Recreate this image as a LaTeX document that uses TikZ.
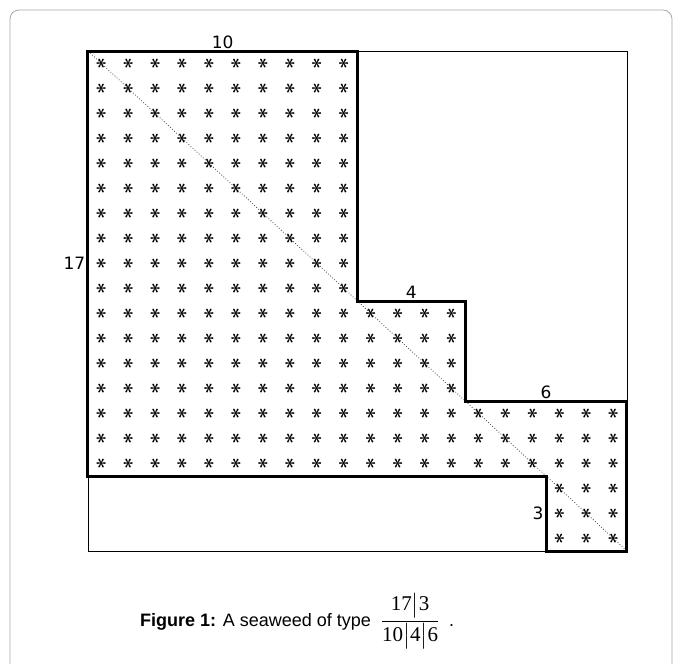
\documentclass[tikz,border=0pt]{standalone}
\usepackage{amsmath}
\usepackage{fontspec}
\newfontfamily\numfont{DejaVu Sans}
\newfontfamily\capfont{Liberation Sans}
\newfontfamily\fracfont{Liberation Serif}
\usetikzlibrary{positioning}
\definecolor{framegray}{HTML}{A8A8A8}

\begin{document}
\begin{tikzpicture}[x=26.95pt,y=-25pt,
  astr/.style={inner sep=0pt,rotate=90,font=\boldmath\fontsize{22}{22}\selectfont},
  numlab/.style={inner sep=2.5pt,font=\numfont\fontsize{17}{17}\selectfont},
  seam/.style={line width=3pt}]
\useasboundingbox (-3.265,-2.04) rectangle (22.004,24.52);
% outer frame, bottom runs off the page
\begin{scope}
\clip (-3.265,-2.04) rectangle (22.004,24.52);
\draw[framegray,line width=0.8pt,rounded corners=9pt] (-2.894,-1.64) rectangle (21.67,24.9);
\end{scope}

% matrix box and diagonal
\draw[line width=0.8pt] (0,0) rectangle (20,20);
\draw[black!75,dotted,line width=0.8pt] (0,0) -- (20,20);

% entries of the seaweed
\foreach \r in {0,...,16} \foreach \c in {0,...,9}
  \node[astr] (s-\r-\c) at (\c+0.5,\r+0.5) {$\ast$};
\foreach \r in {10,...,16} \foreach \c in {10,...,13}
  \node[astr] (s-\r-\c) at (\c+0.5,\r+0.5) {$\ast$};
\foreach \r in {14,...,16} \foreach \c in {14,...,19}
  \node[astr] (s-\r-\c) at (\c+0.5,\r+0.5) {$\ast$};
\foreach \r in {17,...,19} \foreach \c in {17,...,19}
  \node[astr] (s-\r-\c) at (\c+0.5,\r+0.5) {$\ast$};

% outline
\draw[seam] (0,0) -- (10,0) -- (10,10) -- (14,10) -- (14,14) -- (20,14)
  -- (20,20) -- (17,20) -- (17,17) -- (0,17) -- cycle;

% block sizes
\node[numlab,above] (lab-10) at (5,0) {10};
\node[numlab,left] (lab-17) at (0,8.5) {17};
\node[numlab,above] (lab-4) at (12,10) {4};
\node[numlab,above] (lab-6) at (17,14) {6};
\node[numlab,left] (lab-3) at (17,18.5) {3};

% caption
\node[anchor=west,inner sep=0pt,font=\capfont\fontsize{18}{22}\selectfont] (cap) at (1.93,22.8)
  {\textbf{Figure 1:} A seaweed of type\ \ {\fontsize{21}{24}\selectfont$\dfrac{\text{\fracfont 17}\big|\text{\fracfont 3}}{\text{\fracfont 10}\big|\text{\fracfont 4}\big|\text{\fracfont 6}}$}\ \ .};
\end{tikzpicture}
\end{document}
